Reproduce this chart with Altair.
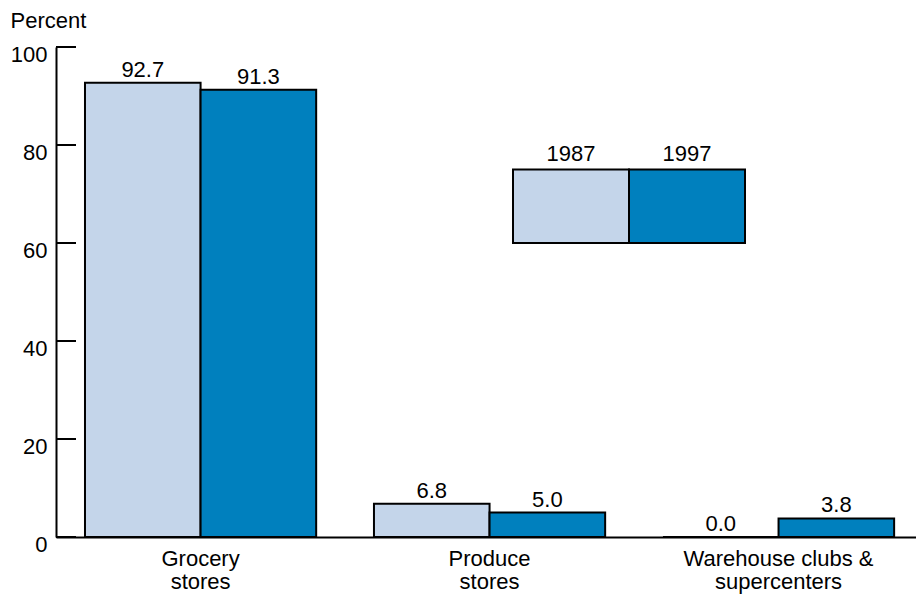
import altair as alt
import pandas as pd

# Share of fresh produce sales by store type, percent
categories = ["Grocery\nstores", "Produce\nstores", "Warehouse clubs &\nsupercenters"]
years = ["1987", "1997"]
share_1987 = [92.7, 6.8, 0.0]
share_1997 = [91.3, 5.0, 3.8]
year_colors = ["#c4d5ea", "#0080be"]
y_ticks = [0, 20, 40, 60, 80, 100]
key_top, key_bottom = 75, 60  # key boxes span these percent values

FONT = "Liberation Sans"
FS = 22

rows = []
for cat, a, b in zip(categories, share_1987, share_1997):
    rows.append({"category": cat, "year": years[0], "share": a})
    rows.append({"category": cat, "year": years[1], "share": b})
df = pd.DataFrame(rows)
df["label"] = df["share"].map(lambda v: f"{v:.1f}")

key_df = pd.DataFrame({"year": years, "top": [key_top] * 2, "bottom": [key_bottom] * 2})
tick_df = pd.DataFrame({"tick": y_ticks})

y_scale = alt.Scale(domain=[0, 100], nice=False)
y_axis = alt.Axis(
    values=y_ticks, ticks=False, tickSize=0, grid=False,
    domainColor="black", domainWidth=2,
    labelBaseline="top", labelOffset=-3, labelPadding=9, labelFontSize=FS, labelFont=FONT,
    labelColor="black",
    title="Percent", titleAngle=0, titleAlign="left", titleBaseline="alphabetic",
    titleX=-46, titleY=-20, titleFont=FONT, titleFontSize=FS, titleFontWeight="normal",
    titleColor="black",
)
color = alt.Color("year:N", scale=alt.Scale(domain=years, range=year_colors), legend=None)

x_scale = alt.Scale(domain=categories, paddingInner=0.2, paddingOuter=0.088, align=0.57)
x_enc = alt.X(
    "category:N", sort=categories, scale=x_scale,
    axis=alt.Axis(
        title=None, ticks=False, labelAngle=0, labelExpr="split(datum.label, '\\n')",
        labelFont=FONT, labelFontSize=FS, labelLineHeight=23, labelPadding=11, labelLimit=0,
        labelBaseline="top", labelColor="black", domainColor="black", domainWidth=2,
    ),
)
xoff = alt.XOffset("year:N", sort=years, scale=alt.Scale(domain=years, paddingInner=0, paddingOuter=0))

bars = alt.Chart(df).mark_bar(stroke="black", strokeWidth=2).encode(
    x=x_enc, xOffset=xoff,
    y=alt.Y("share:Q", scale=y_scale, axis=y_axis),
    color=color,
)

values = alt.Chart(df).mark_text(font=FONT, fontSize=FS, baseline="alphabetic", dy=-6, color="black").encode(
    x=alt.X("category:N", sort=categories, scale=x_scale, axis=None),
    xOffset=xoff,
    y=alt.Y("share:Q", scale=y_scale, axis=y_axis),
    text="label:N",
)

key_x = alt.X("year:N", sort=years,
              scale=alt.Scale(domain=years, range=[457, 689], paddingInner=0, paddingOuter=0),
              axis=None)
key_boxes = alt.Chart(key_df).mark_rect(stroke="black", strokeWidth=2).encode(
    x=key_x,
    y=alt.Y("top:Q", scale=y_scale, axis=y_axis),
    y2="bottom:Q",
    color=color,
)
key_labels = alt.Chart(key_df).mark_text(font=FONT, fontSize=FS, baseline="alphabetic", dy=-9, color="black").encode(
    x=key_x,
    y=alt.Y("top:Q", scale=y_scale, axis=y_axis),
    text="year:N",
)

# inward-pointing y-axis ticks
ticks = alt.Chart(tick_df).mark_rule(color="black", strokeWidth=2).encode(
    y=alt.Y("tick:Q", scale=y_scale, axis=y_axis),
    x=alt.value(0), x2=alt.value(20),
)

chart = (
    alt.layer(bars, values, key_boxes, key_labels, ticks)
    .resolve_scale(x="independent")
    .properties(
        width=860, height=490,
        padding={"left": 56, "top": 47, "right": 0, "bottom": 57},
        autosize=alt.AutoSizeParams(type="none"),
        background="white",
    )
    .configure_view(stroke=None)
)

chart.save("out.html", embed_options={"renderer": "svg", "actions": False})
